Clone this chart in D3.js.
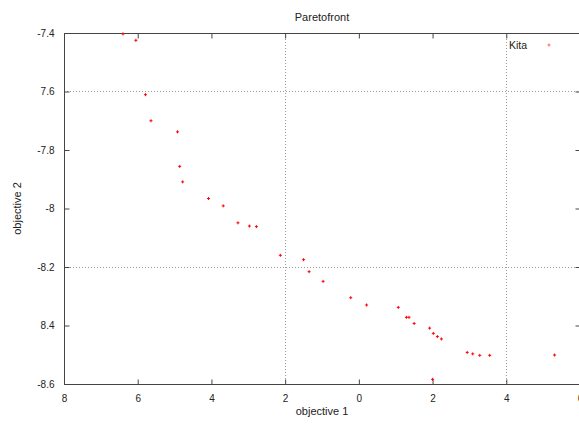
<!DOCTYPE html>
<html>
<head>
<meta charset="utf-8">
<script src="https://cdn.jsdelivr.net/npm/d3@7"></script>
<style>
  html, body { margin: 0; padding: 0; background: #fff; overflow: hidden; }
  svg { display: block; }
  text { font-family: "Liberation Sans", Arial, sans-serif; fill: #222; }
</style>
</head>
<body>
<svg id="chart" width="579" height="426"></svg>
<script>
// ---- data ----
const objective1 = [-6.40, -6.05, -5.79, -5.64, -4.92, -4.86, -4.78, -4.08, -3.68, -3.28, -2.97, -2.78,
  -2.13, -1.50, -1.35, -0.97, -0.22, 0.21, 1.07, 1.29, 1.36, 1.50, 1.92, 2.02, 2.13, 2.24,
  2.94, 3.09, 3.28, 3.55, 5.31, 2.00];
const objective2 = [-7.403, -7.425, -7.611, -7.700, -7.738, -7.856, -7.909, -7.966, -7.991, -8.049, -8.060, -8.062,
  -8.160, -8.175, -8.216, -8.249, -8.305, -8.330, -8.338, -8.372, -8.372, -8.393, -8.409, -8.427, -8.438, -8.446,
  -8.492, -8.497, -8.502, -8.502, -8.501, -8.584];
const xTickValues = [-8, -6, -4, -2, 0, 2, 4, 6];
const xTickLabels = ["8", "6", "4", "2", "0", "2", "4", "6"];
const yTickValues = [-7.4, -7.6, -7.8, -8.0, -8.2, -8.4, -8.6];
const yTickLabels = ["-7.4", "7.6", "-7.8", "-8", "-8.2", "8.4", "-8.6"];
const xGrid = [-2, 4];
const yGrid = [-7.6, -8.2];
const seriesName = "Kita";
const title = "Paretofront";
const xLabel = "objective 1";
const yLabel = "objective 2";

// ---- layout ----
const svg = d3.select("#chart");
const mLeft = 64, mRight = 580, mTop = 33, mBottom = 384;
const x = d3.scaleLinear().domain([-8, 6]).range([mLeft, mRight]);
const y = d3.scaleLinear().domain([-7.4, -8.6]).range([mTop, mBottom]);
const axisColor = "#444";

// grid
const g = svg.append("g");
g.selectAll(".vg").data(xGrid).join("line")
  .attr("x1", d => Math.round(x(d)) + 0.5).attr("x2", d => Math.round(x(d)) + 0.5)
  .attr("y1", mTop).attr("y2", mBottom)
  .attr("stroke", "#999").attr("stroke-dasharray", "1,2").attr("stroke-width", 1);
g.selectAll(".hg").data(yGrid).join("line")
  .attr("y1", d => Math.round(y(d)) + 0.5).attr("y2", d => Math.round(y(d)) + 0.5)
  .attr("x1", mLeft).attr("x2", mRight)
  .attr("stroke", "#999").attr("stroke-dasharray", "1,2").attr("stroke-width", 1);

// axes (ticks inward, mirrored)
const xAxisB = d3.axisBottom(x).tickValues(xTickValues).tickSize(-5).tickPadding(10)
  .tickFormat((d, i) => xTickLabels[i]);
const xAxisT = d3.axisTop(x).tickValues(xTickValues).tickSize(-5).tickFormat("");
const yAxisL = d3.axisLeft(y).tickValues(yTickValues).tickSize(-5).tickPadding(10)
  .tickFormat((d, i) => yTickLabels[i]);
const yAxisR = d3.axisRight(y).tickValues(yTickValues).tickSize(-5).tickFormat("");

function style(sel) {
  sel.select(".domain").remove();
  sel.selectAll("line").attr("stroke", axisColor);
  sel.selectAll("text").attr("font-size", "10px")
    .attr("font-family", "Liberation Sans, Arial, sans-serif").attr("fill", "#222");
}
svg.append("g").attr("transform", `translate(0,${mBottom + 0.5})`).call(xAxisB).call(style);
svg.append("g").attr("transform", `translate(0,${mTop + 0.5})`).call(xAxisT).call(style);
svg.append("g").attr("transform", `translate(${mLeft + 0.5},0)`).call(yAxisL).call(style);
svg.append("g").attr("transform", `translate(${mRight + 0.5},0)`).call(yAxisR).call(style);

// border
svg.append("rect").attr("x", mLeft + 0.5).attr("y", mTop + 0.5)
  .attr("width", mRight - mLeft).attr("height", mBottom - mTop)
  .attr("fill", "none").attr("stroke", axisColor).attr("stroke-width", 1);

// points (small red plus marks)
const pts = svg.append("g");
const data = objective1.map((v, i) => [v, objective2[i]]);
pts.selectAll("path").data(data).join("path")
  .attr("d", d => `M${x(d[0]) - 1.5},${y(d[1])}h3M${x(d[0])},${y(d[1]) - 1.5}v3`)
  .attr("stroke", "#ff0000").attr("stroke-width", 1).attr("fill", "none");

// legend
svg.append("text").attr("x", 527).attr("y", 49).attr("text-anchor", "end")
  .attr("font-size", "10.5px").text(seriesName);
svg.append("path").attr("d", "M547.5,45h3M549,43.5v3")
  .attr("stroke", "#ff0000").attr("stroke-width", 1).attr("opacity", 0.6);

// title and labels
svg.append("text").attr("x", (mLeft + mRight) / 2).attr("y", 21).attr("text-anchor", "middle")
  .attr("font-size", "11px").text(title);
svg.append("text").attr("x", (mLeft + mRight) / 2).attr("y", 415).attr("text-anchor", "middle")
  .attr("font-size", "11px").text(xLabel);
svg.append("text").attr("transform", `translate(21,${(mTop + mBottom) / 2}) rotate(-90)`)
  .attr("text-anchor", "middle").attr("font-size", "11px").text(yLabel);
</script>
</body>
</html>
